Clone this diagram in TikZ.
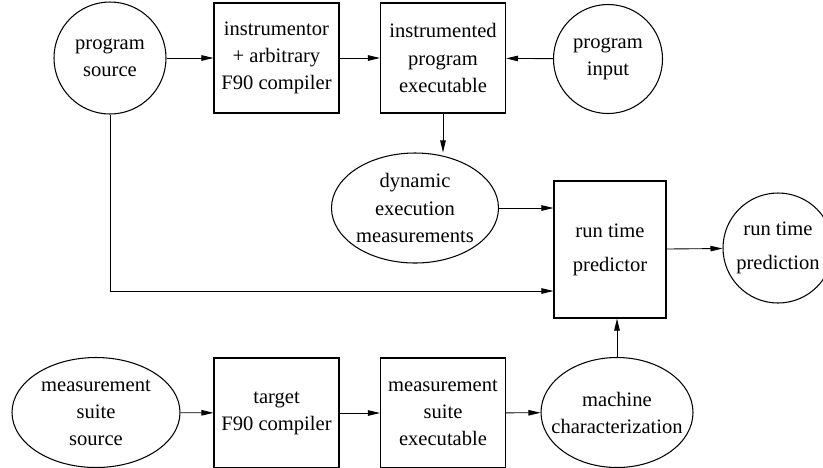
\documentclass[tikz,border=0pt]{standalone}
\usepackage{fontspec}
\setmainfont{LiberationSerif}[Extension=.ttf,UprightFont=*-Regular]
\usepackage{tikz}
\usetikzlibrary{arrows.meta,shapes}
\tikzset{basic/.style={draw,line width=0.6pt,inner sep=0pt,align=center,
                       font=\fontsize{11.7}{15.4}\selectfont}}
\tikzset{datafile/.style={basic,circle,minimum size=2.2cm}}
\tikzset{tool/.style={basic,rectangle,minimum width=2.5cm,minimum height=2.2cm}}
\tikzset{result/.style={basic,ellipse,inner sep=-0.3cm,minimum height=2.2cm}}

\begin{document}
\begin{tikzpicture}[>={Triangle[length=0.24cm,width=0.11cm]},line width=0.5pt]
    \clip (0,0) rectangle (16.46,-9.34);
    % top row
    \node[datafile,minimum size=2.24cm] (src) at (2.2,-1.16) {program\\source};
    \node[tool] (instr) at (5.53,-1.16) {instrumentor\\+ arbitrary\\F90 compiler};
    \node[tool] (exe) at (8.86,-1.16) {instrumented\\program\\executable};
    \node[datafile,minimum size=2.18cm] (input) at (12.16,-1.18) {program\\input};
    % middle
    \node[result,minimum width=3.34cm] (dyn) at (8.3,-4.16) {dynamic\\execution\\measurements};
    \node[tool,minimum width=2.24cm,minimum height=2.74cm] (pred) at (12.2,-4.99) {run time\\[0.14cm]predictor};
    \node[datafile] (out) at (15.56,-4.96) {run time\\[0.14cm]prediction};
    % bottom row
    \node[result,minimum width=3.36cm] (msrc) at (1.92,-8.25) {measurement\\suite\\source};
    \node[tool] (tgt) at (5.53,-8.26) {target\\F90 compiler};
    \node[tool] (mexe) at (8.86,-8.26) {measurement\\suite\\executable};
    \node[result,minimum width=3.04cm] (mach) at (12.34,-8.25) {machine\\characterization};

    \draw[->] (src) -- (instr);
    \draw[->] (instr) -- (exe);
    \draw[->] (input) -- (exe);
    \draw[->] (exe.south) -- (exe.south |- dyn.north);
    \draw[->] (dyn.east) -- (dyn.east -| pred.west);
    \draw[->] (src.south) |- ([yshift=-0.83cm]pred.west);
    \draw[->] (pred) -- (out);
    \draw[->] (msrc) -- (tgt);
    \draw[->] (tgt) -- (mexe);
    \draw[->] (mexe) -- (mach);
    \draw[->] (mach.north) -- (mach.north |- pred.south);
\end{tikzpicture}
\end{document}
